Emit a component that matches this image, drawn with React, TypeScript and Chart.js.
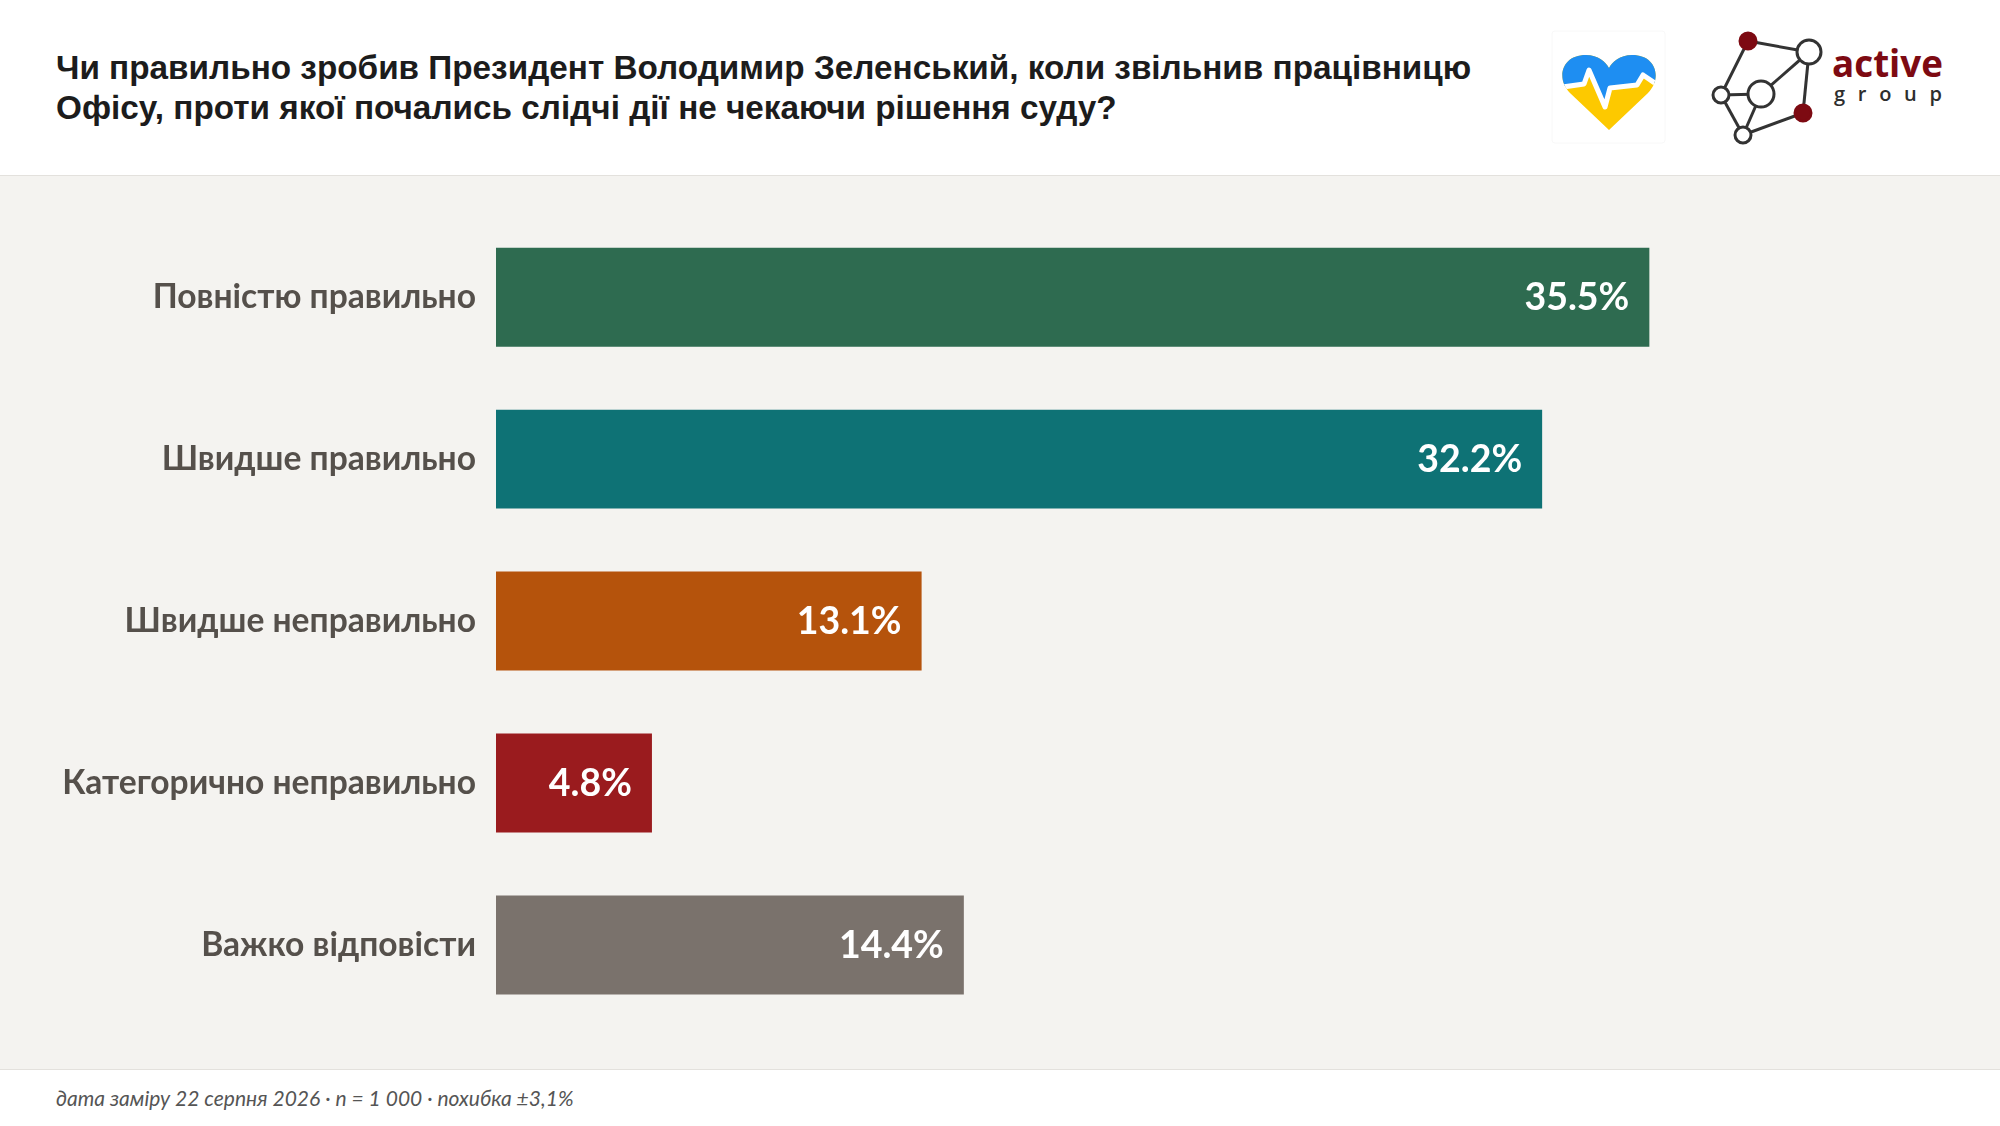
import { useEffect, useRef } from "react"
import { Chart, registerables } from "chart.js"

Chart.register(...registerables)

// Survey data
const categories = [
  "Повністю правильно",
  "Швидше правильно",
  "Швидше неправильно",
  "Категорично неправильно",
  "Важко відповісти",
]
const values = [35.5, 32.2, 13.1, 4.8, 14.4]
const barColors = ["#2e6b50", "#0e7275", "#b5530c", "#9a1b1e", "#7a726c"]

const titleLines = [
  "Чи правильно зробив Президент Володимир Зеленський, коли звільнив працівницю",
  "Офісу, проти якої почались слідчі дії не чекаючи рішення суду?",
]
const footnote = "дата заміру 22 серпня 2026 · n = 1 000 · похибка ±3,1%"

// draws "35.5%" inside the right end of each bar
const valueLabels = {
  id: "valueLabels",
  afterDatasetsDraw(chart: Chart) {
    const ctx = chart.ctx
    const meta = chart.getDatasetMeta(0)
    ctx.save()
    ctx.font = "bold 37.5px Lato"
    ctx.fillStyle = "#ffffff"
    ctx.textAlign = "right"
    ctx.textBaseline = "middle"
    meta.data.forEach((bar: any, i: number) => {
      ctx.fillText(values[i].toFixed(1) + "%", bar.x - 20, bar.y + 1)
    })
    ctx.restore()
  },
}

function Logos() {
  const beat = "1556,88 1584,84 1589,70 1605,107 1610,88 1637,85 1643,75 1662,88"
  return (
    <svg width={2000} height={175} style={{ position: "absolute", left: 0, top: 0 }}>
      <defs>
        <clipPath id="heart">
          <path d="M1609 130 L1570 93 C1556 79 1561 55 1586 55 C1598 55 1606 62 1609 68 C1612 62 1620 55 1632 55 C1657 55 1662 79 1648 93 Z" />
        </clipPath>
      </defs>
      <rect x={1552} y={31} width={113} height={112} fill="none" stroke="#f8f8f8" strokeWidth={1} rx={3} />
      <g clipPath="url(#heart)">
        <rect x={1550} y={50} width={120} height={90} fill="#fdc900" />
        <polygon points={beat + " 1662,50 1556,50"} fill="#1e8ef2" />
        <polyline points={beat} fill="none" stroke="#ffffff" strokeWidth={5} strokeLinejoin="round" />
      </g>

      <g stroke="#333333" strokeWidth={3} fill="none">
        <line x1={1748} y1={41} x2={1809} y2={52} />
        <line x1={1748} y1={41} x2={1721} y2={95} />
        <line x1={1809} y1={52} x2={1761} y2={94} />
        <line x1={1809} y1={52} x2={1803} y2={113} />
        <line x1={1721} y1={95} x2={1761} y2={94} />
        <line x1={1721} y1={95} x2={1743} y2={135} />
        <line x1={1761} y1={94} x2={1743} y2={135} />
        <line x1={1743} y1={135} x2={1803} y2={113} />
      </g>
      <g stroke="#333333" strokeWidth={3}>
        <circle cx={1748} cy={41} r={8} fill="#7d0a12" stroke="#7d0a12" />
        <circle cx={1809} cy={52} r={12} fill="#ffffff" />
        <circle cx={1721} cy={95} r={8} fill="#ffffff" />
        <circle cx={1761} cy={94} r={13} fill="#ffffff" />
        <circle cx={1803} cy={113} r={8} fill="#7d0a12" stroke="#7d0a12" />
        <circle cx={1743} cy={135} r={8} fill="#ffffff" />
      </g>
      <text x={1832} y={77} fontFamily="Open Sans" fontWeight="bold" fontSize={38} fill="#7d0a12" textLength={111} lengthAdjust="spacingAndGlyphs">
        active
      </text>
      <text x={1834} y={101} fontFamily="Open Sans" fontWeight="600" fontSize={20} fill="#2e2e2e" textLength={108} lengthAdjust="spacing">
        group
      </text>
    </svg>
  )
}

export default function App() {
  const chartRef = useRef<HTMLCanvasElement>(null)
  const chartInstance = useRef<Chart | null>(null)

  useEffect(() => {
    document.body.style.margin = "0"
    if (!chartRef.current) return
    if (chartInstance.current) chartInstance.current.destroy()

    const ctx = chartRef.current.getContext("2d")
    if (!ctx) return

    chartInstance.current = new Chart(ctx, {
      type: "bar",
      data: {
        labels: categories,
        datasets: [
          {
            data: values,
            backgroundColor: barColors,
            borderWidth: 0,
            categoryPercentage: 1,
            barPercentage: 0.611,
          },
        ],
      },
      options: {
        indexAxis: "y",
        responsive: true,
        maintainAspectRatio: false,
        animation: false,
        layout: { padding: { top: 31.5, bottom: 43, left: 0, right: 42 } },
        scales: {
          x: { min: 0, max: 45, display: false },
          y: {
            grid: { display: false, drawTicks: false },
            border: { display: false },
            ticks: {
              padding: 20,
              color: "#55504b",
              font: { family: "Lato", weight: "bold", size: 33.6 },
            },
            afterFit(scale: any) {
              scale.width = 496
            },
          },
        },
        plugins: {
          legend: { display: false },
          tooltip: { enabled: false },
        },
      },
      plugins: [valueLabels],
    })

    return () => {
      if (chartInstance.current) {
        chartInstance.current.destroy()
        chartInstance.current = null
      }
    }
  }, [])

  return (
    <div style={{ position: "absolute", left: 0, top: 0, width: 2000, height: 1126, background: "#ffffff", overflow: "hidden" }}>
      <div style={{ position: "absolute", left: 0, top: 0, width: 2000, height: 175, borderBottom: "1px solid #e3e1dd", background: "#ffffff" }}>
        <div
          style={{
            position: "absolute",
            left: 56,
            top: 48,
            fontFamily: "'Liberation Sans', Arial, sans-serif",
            fontWeight: "bold",
            fontSize: 33.3,
            lineHeight: "40px",
            color: "#1c1c1c",
            whiteSpace: "nowrap",
          }}
        >
          {titleLines.map((t) => (
            <div key={t}>{t}</div>
          ))}
        </div>
        <Logos />
      </div>
      <div style={{ position: "absolute", left: 0, top: 176, width: 2000, height: 893, background: "#f4f3f0" }}>
        <canvas ref={chartRef}></canvas>
      </div>
      <div
        style={{
          position: "absolute",
          left: 0,
          top: 1069,
          width: 2000,
          height: 57,
          borderTop: "1px solid #e3e1dd",
          background: "#ffffff",
        }}
      >
        <div
          style={{
            position: "absolute",
            left: 56,
            top: 15,
            fontFamily: "Lato, sans-serif",
            fontStyle: "italic",
            fontSize: 21,
            lineHeight: "26px",
            color: "#555555",
            whiteSpace: "nowrap",
          }}
        >
          {footnote}
        </div>
      </div>
    </div>
  )
}
